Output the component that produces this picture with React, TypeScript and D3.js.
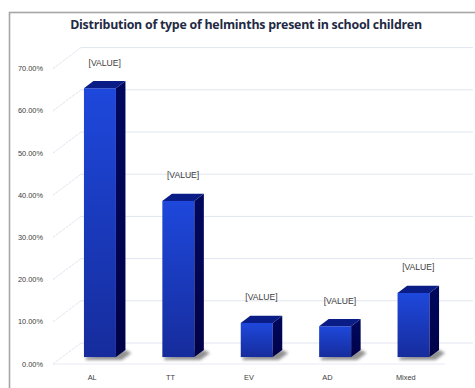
import React from "react";
import * as d3 from "d3";

// Share of each helminth type among infected school children
const categories = ["AL", "TT", "EV", "AD", "Mixed"];
const shares = [0.637, 0.37, 0.081, 0.073, 0.152];
const yTicks = [0, 0.1, 0.2, 0.3, 0.4, 0.5, 0.6, 0.7];
const valueLabel = "[VALUE]";
const title = "Distribution of type of helminths present in school children";

const W = 475;
const H = 388;

// Oblique 3D projection: full depth of the plot box
const DEPTH_X = 28;
const DEPTH_Y = -21;
// Bars occupy the middle third of the depth
const T0 = 0.33;
const T1 = 0.67;

const floorLeft = 53;
const floorRight = 445;
const floorY = 364;

export default function App() {
  const y = d3.scaleLinear().domain([0, 0.7]).range([floorY, floorY - 0.7 * 422]);
  const x = d3
    .scaleBand<string>()
    .domain(categories)
    .range([floorLeft - 1.5, floorRight - 1.5])
    .paddingInner(0.592)
    .paddingOuter(0.296);
  const xCat = d3.scaleBand<string>().domain(categories).range([floorLeft, floorRight]);

  const backX = floorLeft + DEPTH_X;
  const pct = d3.format(".2%");

  const fx = T0 * DEPTH_X;
  const fy = T0 * DEPTH_Y;
  const dx = (T1 - T0) * DEPTH_X;
  const dy = (T1 - T0) * DEPTH_Y;

  const pts = (arr: [number, number][]) => arr.map((p) => p.join(",")).join(" ");

  return (
    <svg
      width={W}
      height={H}
      style={{ position: "fixed", left: 0, top: 0, background: "#fff" }}
      fontFamily="'Liberation Sans', Arial, sans-serif"
    >
      <defs>
        <linearGradient id="front" x1="0" y1="0" x2="0" y2="1">
          <stop offset="0" stopColor="#1e48dc" />
          <stop offset="1" stopColor="#162c9c" />
        </linearGradient>
        <linearGradient id="side" x1="0" y1="0" x2="0" y2="1">
          <stop offset="0" stopColor="#00085e" />
          <stop offset="1" stopColor="#000248" />
        </linearGradient>
        <filter id="soft" x="-50%" y="-50%" width="200%" height="200%">
          <feGaussianBlur stdDeviation="1.6" />
        </filter>
      </defs>

      {/* chart frame */}
      <rect x={9.5} y={12.5} width={W} height={H} fill="#fff" stroke="#a6a6a6" strokeWidth={1.6} />

      <text
        x={246}
        y={29}
        textAnchor="middle"
        fontSize={12.4}
        fontWeight="bold"
        fill="#1f2a44"
        fontFamily="'Open Sans', 'Liberation Sans', sans-serif"
        letterSpacing={-0.25}
      >
        {title}
      </text>

      {/* back wall gridlines and side wall diagonals */}
      {yTicks.map((t) => (
        <g key={t}>
          <line
            x1={backX}
            x2={473}
            y1={y(t) + DEPTH_Y}
            y2={y(t) + DEPTH_Y}
            stroke="#e1e6ef"
            strokeWidth={1}
          />
          <line
            x1={floorLeft}
            y1={y(t)}
            x2={backX}
            y2={y(t) + DEPTH_Y}
            stroke="#dfe4ee"
            strokeWidth={1}
            strokeDasharray="3,1"
          />
          <text x={43} y={y(t) + 2.6} textAnchor="end" fontSize={7.4} fill="#404040">
            {pct(t)}
          </text>
        </g>
      ))}

      {/* floor front edge */}
      <line x1={floorLeft} x2={floorRight} y1={floorY} y2={floorY} stroke="#e6eaf1" strokeWidth={1} />

      {/* bars */}
      {categories.map((c, i) => {
        const v = shares[i];
        const x0 = (x(c) as number) + fx;
        const x1 = x0 + x.bandwidth();
        const yb = floorY + fy;
        const yt = y(v) + fy;
        return (
          <g key={c}>
            <polygon
              points={pts([
                [x0 + 2, yb],
                [x1 + dx, yb + dy],
                [x1 + dx + 6, yb + dy + 3],
                [x1 + 6, yb + 3],
                [x0 + 2, yb + 3],
              ])}
              fill="#3a3a3a"
              opacity={0.55}
              filter="url(#soft)"
            />
            <rect x={x0} y={yt} width={x1 - x0} height={yb - yt} fill="url(#front)" />
            <polygon
              points={pts([
                [x1, yt],
                [x1 + dx, yt + dy],
                [x1 + dx, yb + dy],
                [x1, yb],
              ])}
              fill="url(#side)"
            />
            <polygon
              points={pts([
                [x0, yt],
                [x0 + dx, yt + dy],
                [x1 + dx, yt + dy],
                [x1, yt],
              ])}
              fill="#0a1c86"
            />
            <text
              x={(x0 + x1) / 2 + dx / 2}
              y={yt + dy / 2 - 19}
              textAnchor="middle"
              fontSize={8.6}
              fill="#404040"
            >
              {valueLabel}
            </text>
          </g>
        );
      })}

      {/* category labels */}
      {categories.map((c) => (
        <text
          key={c}
          x={(xCat(c) as number) + xCat.bandwidth() / 2}
          y={380}
          textAnchor="middle"
          fontSize={7.4}
          fill="#404040"
        >
          {c}
        </text>
      ))}
    </svg>
  );
}
